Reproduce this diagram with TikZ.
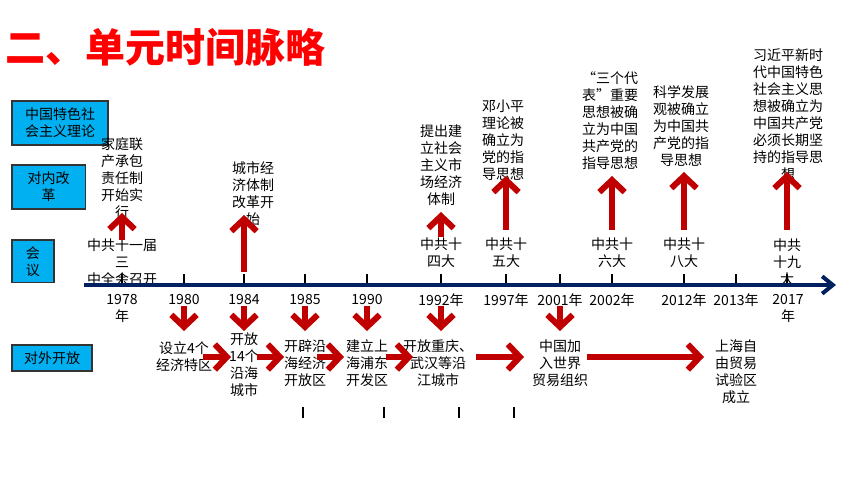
\documentclass[tikz,border=0pt]{standalone}
\usepackage{fontspec}
\setmainfont{Noto Sans CJK SC}
\usetikzlibrary{arrows.meta}
\definecolor{arrowred}{HTML}{C00000}
\definecolor{boxblue}{HTML}{00B0F0}
\definecolor{linenavy}{HTML}{002060}
\begin{document}
\begin{tikzpicture}[x=0.75pt,y=-0.75pt]
\useasboundingbox (0,0) rectangle (860,484);

\coordinate (Y1) at (122,285);
\coordinate (Y2) at (184,285);
\coordinate (Y3) at (244,285);
\coordinate (Y4) at (305,285);
\coordinate (Y5) at (367,285);
\coordinate (Y6) at (441,285);
\coordinate (Y7) at (506,285);
\coordinate (Y8) at (560,285);
\coordinate (Y9) at (612,285);
\coordinate (Y10) at (684,285);
\coordinate (Y11) at (736,285);
\coordinate (Y12) at (787,285);
\coordinate (L1) at (84,285);
\coordinate (L2) at (836,285);

\node[anchor=west, text=red, font=\fontsize{30}{36}\selectfont\bfseries, inner sep=0pt] (T) at (5,47) {二、单元时间脉略};

\tikzset{BoxStyle/.style = {draw=black!80, fill=boxblue, line width=1pt, align=center,
 inner sep=0pt, font=\fontsize{10.5}{12.75}\selectfont} }

\node[BoxStyle, minimum width=72pt, minimum height=33pt] (B1) at (60,123) {中国特色社\\会主义理论};
\node[BoxStyle, minimum width=55pt, minimum height=33pt] (B2) at (48.5,187) {对内改\\革};
\node[BoxStyle, minimum width=31.5pt, minimum height=32pt] (B3) at (33,261.5) {会\\议};
\node[BoxStyle, minimum width=60pt, minimum height=19.5pt] (B4) at (52,358) {对外开放};

\tikzset{TextStyle/.style = {align=center, inner sep=0pt, font=\fontsize{10.5}{12.75}\selectfont} }

\node[TextStyle] (S1) at (122,178) {家庭联\\产承包\\责任制\\开始实\\行};
\node[TextStyle] (S2) at (253,194) {城市经\\济体制\\改革开\\始};
\node[TextStyle] (S3) at (441,165) {提出建\\立社会\\主义市\\场经济\\体制};
\node[TextStyle] (S4) at (503,140) {邓小平\\理论被\\确立为\\党的指\\导思想};
\node[TextStyle] (S5) at (610,121) {“三个代\\表”重要\\思想被确\\立为中国\\共产党的\\指导思想};
\node[TextStyle] (S6) at (681,126) {科学发展\\观被确立\\为中国共\\产党的指\\导思想};
\node[TextStyle] (S7) at (788,115) {习近平新时\\代中国特色\\社会主义思\\想被确立为\\中国共产党\\必须长期坚\\持的指导思\\想};

\node[TextStyle] (M1) at (122,262) {中共十一届\\三\\中全会召开};
\node[TextStyle] (M2) at (441,253) {中共十\\四大};
\node[TextStyle] (M3) at (506,253) {中共十\\五大};
\node[TextStyle] (M4) at (612,253) {中共十\\六大};
\node[TextStyle] (M5) at (684,253) {中共十\\八大};
\node[TextStyle] (M6) at (787,262) {中共\\十九\\大};

\node[TextStyle] (N1) at (122,308.5) {1978\\年};
\node[TextStyle] (N2) at (184,300) {1980};
\node[TextStyle] (N3) at (244,300) {1984};
\node[TextStyle] (N4) at (305,300) {1985};
\node[TextStyle] (N5) at (367,300) {1990};
\node[TextStyle] (N6) at (441,300) {1992年};
\node[TextStyle] (N7) at (506,300) {1997年};
\node[TextStyle] (N8) at (560,300) {2001年};
\node[TextStyle] (N9) at (612,300) {2002年};
\node[TextStyle] (N10) at (684,300) {2012年};
\node[TextStyle] (N11) at (736,300) {2013年};
\node[TextStyle] (N12) at (788,308.5) {2017\\年};

\node[TextStyle] (K1) at (184,357) {设立4个\\经济特区};
\node[TextStyle] (K2) at (244,365) {开放\\14个\\沿海\\城市};
\node[TextStyle] (K3) at (305,363) {开辟沿\\海经济\\开放区};
\node[TextStyle] (K4) at (367,363) {建立上\\海浦东\\开发区};
\node[TextStyle] (K5) at (438,363) {开放重庆、\\武汉等沿\\江城市};
\node[TextStyle] (K6) at (560,363) {中国加\\入世界\\贸易组织};
\node[TextStyle] (K7) at (736,372) {上海自\\由贸易\\试验区\\成立};

\tikzset{TickStyle/.style = {line width=2.2pt, black} }

\draw[TickStyle] (Y1) -- ++(0,-11);
\draw[TickStyle] (Y2) -- ++(0,-11);
\draw[TickStyle] (Y3) -- ++(0,-11);
\draw[TickStyle] (Y4) -- ++(0,-11);
\draw[TickStyle] (Y5) -- ++(0,-11);
\draw[TickStyle] (Y6) -- ++(0,-11);
\draw[TickStyle] (Y7) -- ++(0,-11);
\draw[TickStyle] (Y8) -- ++(0,-11);
\draw[TickStyle] (Y9) -- ++(0,-11);
\draw[TickStyle] (Y10) -- ++(0,-11);
\draw[TickStyle] (Y11) -- ++(0,-11);
\draw[TickStyle] (Y12) -- ++(0,-11);

\draw[TickStyle] (303,407) -- (303,418);
\draw[TickStyle] (384,407) -- (384,418);
\draw[TickStyle] (459,407) -- (459,418);
\draw[TickStyle] (514,407) -- (514,418);

\draw[linenavy, line width=3pt, -{Straight Barb[length=8pt, width=13pt]}] (L1) -- (L2);

\tikzset{ArrowStyle/.style = {arrowred, line width=4.5pt, -{Straight Barb[length=9pt, width=19pt]}} }

\coordinate (U1_1) at (122,240);
\coordinate (U1_2) at (122,213);
\coordinate (U2_1) at (244,272);
\coordinate (U2_2) at (244,215);
\coordinate (U3_1) at (441,237);
\coordinate (U3_2) at (441,212);
\coordinate (U4_1) at (506,230);
\coordinate (U4_2) at (506,176);
\coordinate (U5_1) at (612,230);
\coordinate (U5_2) at (612,176);
\coordinate (U6_1) at (684,230);
\coordinate (U6_2) at (684,172);
\coordinate (U7_1) at (787,230);
\coordinate (U7_2) at (787,172);

\draw[ArrowStyle] (U1_1) -- (U1_2);
\draw[ArrowStyle] (U2_1) -- (U2_2);
\draw[ArrowStyle] (U3_1) -- (U3_2);
\draw[ArrowStyle] (U4_1) -- (U4_2);
\draw[ArrowStyle] (U5_1) -- (U5_2);
\draw[ArrowStyle] (U6_1) -- (U6_2);
\draw[ArrowStyle] (U7_1) -- (U7_2);

\coordinate (D1_1) at (184,306);
\coordinate (D1_2) at (184,331);
\coordinate (D2_1) at (244,306);
\coordinate (D2_2) at (244,331);
\coordinate (D3_1) at (305,306);
\coordinate (D3_2) at (305,331);
\coordinate (D4_1) at (367,306);
\coordinate (D4_2) at (367,331);
\coordinate (D5_1) at (441,306);
\coordinate (D5_2) at (441,331);
\coordinate (D6_1) at (560,306);
\coordinate (D6_2) at (560,331);

\draw[ArrowStyle] (D1_1) -- (D1_2);
\draw[ArrowStyle] (D2_1) -- (D2_2);
\draw[ArrowStyle] (D3_1) -- (D3_2);
\draw[ArrowStyle] (D4_1) -- (D4_2);
\draw[ArrowStyle] (D5_1) -- (D5_2);
\draw[ArrowStyle] (D6_1) -- (D6_2);

\coordinate (R1_1) at (203,357);
\coordinate (R1_2) at (231,357);
\coordinate (R2_1) at (257,357);
\coordinate (R2_2) at (284,357);
\coordinate (R3_1) at (317,357);
\coordinate (R3_2) at (344,357);
\coordinate (R4_1) at (386,357);
\coordinate (R4_2) at (413,357);
\coordinate (R5_1) at (476,357);
\coordinate (R5_2) at (524,357);
\coordinate (R6_1) at (587,357);
\coordinate (R6_2) at (704,357);

\draw[ArrowStyle] (R1_1) -- (R1_2);
\draw[ArrowStyle] (R2_1) -- (R2_2);
\draw[ArrowStyle] (R3_1) -- (R3_2);
\draw[ArrowStyle] (R4_1) -- (R4_2);
\draw[ArrowStyle] (R5_1) -- (R5_2);
\draw[ArrowStyle] (R6_1) -- (R6_2);

\end{tikzpicture}
\end{document}
